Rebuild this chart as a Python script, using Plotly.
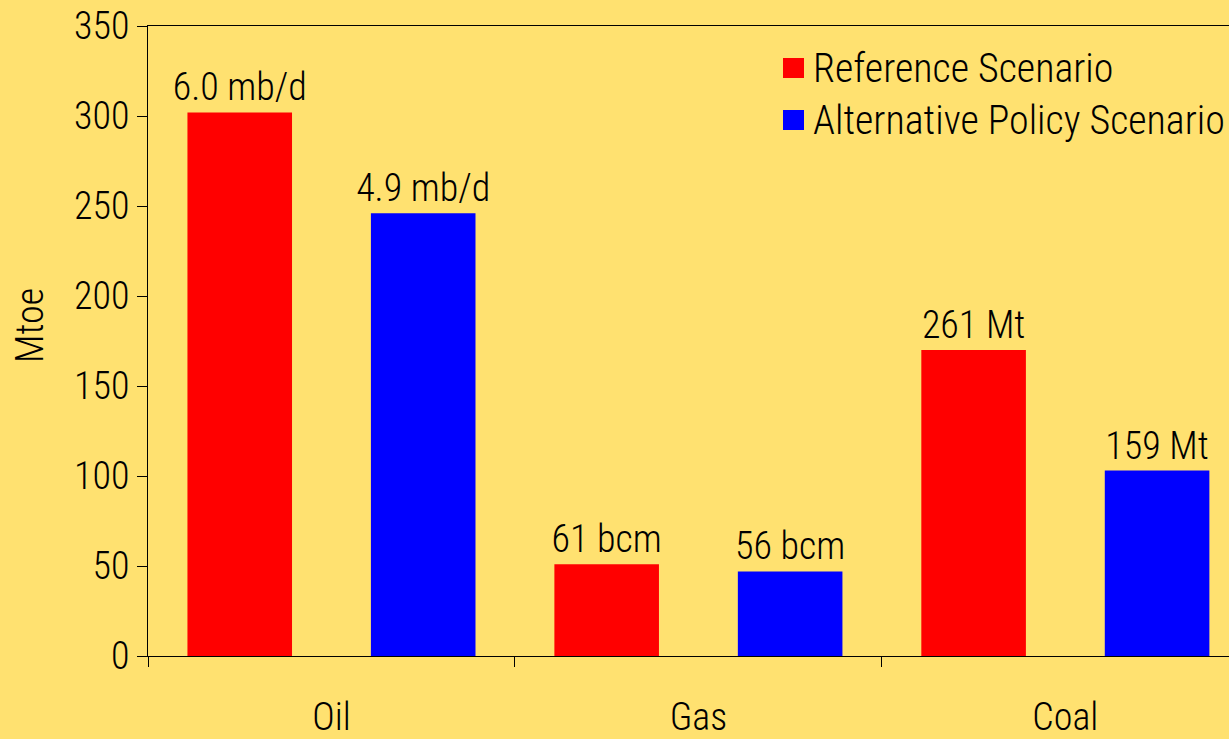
import plotly.graph_objects as go

# Fuel categories and the two scenario series (Mtoe)
categories = ["Oil", "Gas", "Coal"]
series_names = ["Reference Scenario", "Alternative Policy Scenario"]
reference_mtoe = [302, 51, 170]
alternative_mtoe = [246, 47, 103]
reference_labels = ["6.0 mb/d", "61 bcm", "261 Mt"]
alternative_labels = ["4.9 mb/d", "56 bcm", "159 Mt"]
y_ticks = [0, 50, 100, 150, 200, 250, 300, 350]

FONT = "Liberation Sans Narrow, Arial Narrow, Roboto Condensed, sans-serif"
W = 300
BG = "#FFE170"
colors = ["#FF0000", "#0000FF"]

fig = go.Figure()
for name, vals, labels, col in zip(series_names,
                                    [reference_mtoe, alternative_mtoe],
                                    [reference_labels, alternative_labels],
                                    colors):
    fig.add_trace(go.Bar(
        name=name, x=categories, y=vals, marker=dict(color=col, line=dict(width=0)),
        text=labels, textposition="outside", constraintext="none",
        textfont=dict(family=FONT, size=38, color="black", weight=W),
        cliponaxis=False, showlegend=False,
    ))

# Custom legend: colored squares with labels at the top right
for i, (name, col) in enumerate(zip(series_names, colors)):
    yc = 68 + i * 52
    fig.add_shape(type="rect", xref="paper", yref="paper",
                  x0=(783 - 148) / 1081, x1=(804 - 148) / 1081,
                  y0=(656 - (yc + 10)) / 630, y1=(656 - (yc - 10)) / 630,
                  fillcolor=col, line=dict(width=0))
    fig.add_annotation(xref="paper", yref="paper", x=(811 - 148) / 1081,
                       y=(656 - yc) / 630, text=name, showarrow=False,
                       xanchor="left", yanchor="middle",
                       font=dict(family=FONT, size=40, color="black", weight=W))

# Y axis title
fig.add_annotation(xref="paper", yref="paper", x=(30 - 148) / 1081,
                   y=(656 - 326) / 630, text="Mtoe", textangle=-90,
                   showarrow=False, xanchor="center", yanchor="middle",
                   font=dict(family=FONT, size=38, color="black", weight=W))

fig.update_layout(
    width=1229, height=739,
    margin=dict(l=148, r=0, t=26, b=83),
    paper_bgcolor=BG, plot_bgcolor=BG,
    barmode="group", bargap=0.0, bargroupgap=0.43,
    font=dict(family=FONT, size=38, color="black", weight=W),
    xaxis=dict(type="category", range=[-0.5, 2.446], tickson="boundaries",
               ticks="outside", ticklen=10, tickcolor="black", tickwidth=1,
               showline=True, linecolor="black", linewidth=1, mirror=True,
               showgrid=False, ticklabelstandoff=27, automargin=False,
               tickfont=dict(family=FONT, size=38, color="black", weight=W)),
    yaxis=dict(range=[0, 350], tickvals=y_ticks, ticks="outside", ticklen=10,
               tickcolor="black", tickwidth=1, showline=True, automargin=False,
               linecolor="black", linewidth=1, showgrid=False, zeroline=False,
               tickfont=dict(family=FONT, size=38, color="black", weight=W)),
)

fig.write_html("out.html")
